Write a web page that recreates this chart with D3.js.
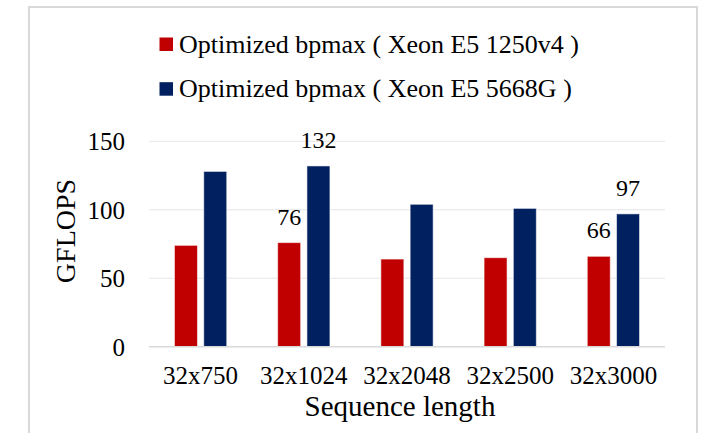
<!DOCTYPE html>
<html>
<head>
<meta charset="utf-8">
<script src="https://cdn.jsdelivr.net/npm/d3@7"></script>
<style>
  body { margin: 0; background: #fff; }
</style>
</head>
<body>
<div id="chart"></div>
<script>
// values
const categories = ["32x750", "32x1024", "32x2048", "32x2500", "32x3000"]
const seriesNames = ["Optimized bpmax ( Xeon E5 1250v4 )", "Optimized bpmax ( Xeon E5 5668G )"]
const xeon1250v4 = [74, 76, 64, 65, 66]
const xeon5668G = [128, 132, 104, 101, 97]
const yTicks = [0, 50, 100, 150]
const labeledIdx = [1, 4]   // only these groups carry value labels

const colors = ["#c00000", "#002060"]
const serif = "'Liberation Serif', 'Times New Roman', Times, serif"
const width = 712, height = 433
const margin = {top: 141.3, right: 47, bottom: 86.3, left: 149}

const svg = d3.select('#chart').append('svg')
    .attr('width', width)
    .attr('height', height)

// outer frame (bottom edge is cut off in the original)
svg.append('path')
    .attr('d', `M29,${height + 2} V7 H697 V${height + 2}`)
    .attr('fill', 'none')
    .attr('stroke', '#d9d9d9')
    .attr('stroke-width', 2)

const x0 = d3.scaleBand()
    .domain(categories)
    .range([margin.left, width - margin.right])
    .padding(0)

const x1 = d3.scaleBand()
    .domain([0, 1])
    .range([0, x0.bandwidth()])
    .paddingInner(0.215)
    .paddingOuter(0.87)

const y = d3.scaleLinear()
    .domain([0, 150])
    .range([height - margin.bottom, margin.top])

// gridlines
svg.append('g')
    .selectAll('line')
    .data(yTicks.filter(d => d > 0))
    .join('line')
    .attr('x1', margin.left)
    .attr('x2', width - margin.right)
    .attr('y1', d => y(d))
    .attr('y2', d => y(d))
    .attr('stroke', '#e6e6e6')
    .attr('stroke-width', 1)

// y axis labels
const yAxis = svg.append('g')
    .attr('transform', `translate(${margin.left},0)`)
    .call(d3.axisLeft(y).tickValues(yTicks).tickSize(0).tickPadding(24))
yAxis.select('.domain').remove()
yAxis.selectAll('text')
    .attr('font-size', 25)
    .attr('dy', '0.34em')

// bars
const rows = categories.map((c, i) => ({cat: c, vals: [xeon1250v4[i], xeon5668G[i]], i}))

const groups = svg.append('g')
    .selectAll('g')
    .data(rows)
    .join('g')
    .attr('transform', d => `translate(${x0(d.cat)},0)`)

groups.selectAll('rect')
    .data(d => d.vals.map((v, s) => ({v, s, i: d.i})))
    .join('rect')
    .attr('x', d => x1(d.s))
    .attr('width', x1.bandwidth())
    .attr('y', d => y(d.v))
    .attr('height', d => y(0) - y(d.v))
    .attr('fill', d => colors[d.s])
    .attr('stroke', 'rgba(255,255,255,0.55)')
    .attr('stroke-width', 1)

// value labels
groups.selectAll('text.val')
    .data(d => labeledIdx.includes(d.i) ? d.vals.map((v, s) => ({v, s})) : [])
    .join('text')
    .attr('class', 'val')
    .attr('x', d => x1(d.s) + x1.bandwidth() / 2)
    .attr('y', d => y(d.v) - 18)
    .attr('text-anchor', 'middle')
    .attr('font-size', 24)
    .text(d => d.v)

// baseline
svg.append('line')
    .attr('x1', margin.left)
    .attr('x2', width - margin.right)
    .attr('y1', y(0))
    .attr('y2', y(0))
    .attr('stroke', '#d9d9d9')
    .attr('stroke-width', 1.5)

// x axis labels
const xAxis = svg.append('g')
    .attr('transform', `translate(0,${y(0)})`)
    .call(d3.axisBottom(x0).tickSize(0))
xAxis.select('.domain').remove()
xAxis.selectAll('text')
    .attr('y', 37.6)
    .attr('dy', null)
    .attr('font-size', 25)

// axis titles
svg.append('text')
    .attr('x', 400)
    .attr('y', 416)
    .attr('text-anchor', 'middle')
    .attr('font-size', 29)
    .text('Sequence length')

svg.append('text')
    .attr('transform', 'translate(75,231) rotate(-90)')
    .attr('text-anchor', 'middle')
    .attr('font-size', 28)
    .text('GFLOPS')

// legend
const legend = svg.append('g')
    .selectAll('g')
    .data(seriesNames)
    .join('g')
    .attr('transform', (d, i) => `translate(159.5,${37.5 + i * 44.7})`)

legend.append('rect')
    .attr('width', 13.5)
    .attr('height', 13.5)
    .attr('fill', (d, i) => colors[i])

legend.append('text')
    .attr('x', 19.5)
    .attr('y', 15)
    .attr('font-size', 26)
    .text(d => d)

// one serif face for every label
svg.selectAll('g').attr('font-family', null)
svg.selectAll('text')
    .style('font-family', serif)
    .attr('fill', '#000')
</script>
</body>
</html>
